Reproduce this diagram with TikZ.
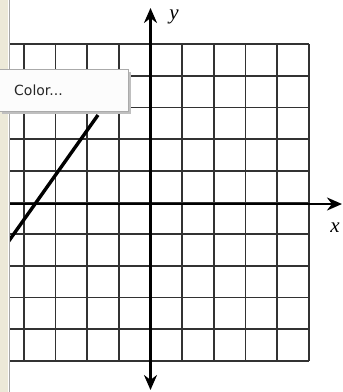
\documentclass[tikz,border=0pt]{standalone}
\usepackage{fontspec}
\newfontfamily\uifont{DejaVu Sans}
\newfontfamily\labfont{Liberation Serif}
\usetikzlibrary{arrows.meta}
\definecolor{xpbeige}{RGB}{236,233,216}
\definecolor{gridc}{RGB}{50,50,50}
\definecolor{popfill}{RGB}{252,252,252}
\definecolor{popline}{RGB}{170,170,170}
\tikzset{
  gridline/.style={draw=gridc, line width=1.7pt},
  axisline/.style={draw=black, line width=2.8pt, -{Stealth[length=15pt,width=13pt]}},
  seg/.style={draw=black, line width=3.4pt},
  axlabel/.style={font=\labfont\itshape\fontsize{21}{21}\selectfont, inner sep=0pt},
}
\begin{document}
\begin{tikzpicture}[x=1pt,y=-1pt]
\useasboundingbox (0,0) rectangle (343,392);
\fill[white] (0,0) rectangle (343,392);
% left window strip
\fill[xpbeige] (0,0) rectangle (8,392);
\draw[gray!70, line width=1.4pt] (9.5,0) -- (9.5,392);
% grid
\begin{scope}
\clip (10,0) rectangle (343,392);
\foreach \k in {0,...,10} {
  \draw[gridline] (10,44+31.7*\k) -- (309,44+31.7*\k);
}
\foreach \k in {0,...,9} {
  \draw[gridline] (309-31.7*\k,44) -- (309-31.7*\k,361);
}
% plotted segment
\coordinate (p1) at (6,245);
\coordinate (p2) at (98,115);
\draw[seg] (p1) -- (p2);
\end{scope}
% axes
\coordinate (xl) at (10,204);
\coordinate (xr) at (342,204);
\coordinate (yb) at (150.5,390);
\coordinate (yt) at (150.5,8);
\draw[axisline] (xl) -- (xr);
\draw[axisline, {Stealth[length=15pt,width=13pt]}-{Stealth[length=15pt,width=13pt]}] (yb) -- (yt);
\node[axlabel] (xlab) at (335,228) {x};
\node[axlabel] (ylab) at (174,17) {y};
% popup menu
\fill[black!25] (2,72) rectangle (131,114);
\draw[popline, fill=popfill, line width=0.8pt] (-2,69) rectangle (128,111);
\node[font=\uifont\fontsize{14}{14}\selectfont, anchor=west, inner sep=0pt, text=black!85] (menu) at (14,90) {Color...};
\end{tikzpicture}
\end{document}
